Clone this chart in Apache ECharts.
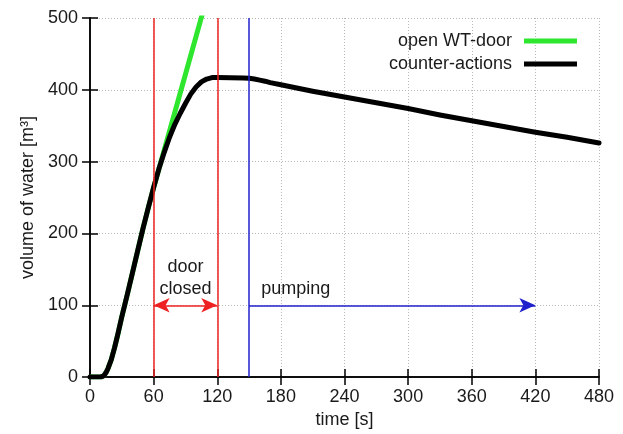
<!DOCTYPE html>
<html><head><meta charset="utf-8">
<script src="https://cdn.jsdelivr.net/npm/echarts@6/dist/echarts.min.js"></script>
<style>html,body{margin:0;padding:0;background:#fff}#c{width:623px;height:434px}</style>
</head><body><div id="c"></div>
<script>
// ---- data ----
var timeTicks = [0, 60, 120, 180, 240, 300, 360, 420, 480];
var volumeTicks = [0, 100, 200, 300, 400, 500];
var counterT = [0, 10, 11, 13, 15, 17, 20, 23, 26, 30, 35, 40, 45, 50, 55, 60, 65, 70, 75, 80, 85, 90, 95, 100, 105, 110, 115, 120, 145, 150, 155, 160, 165, 170, 180, 210, 240, 270, 300, 330, 360, 390, 420, 450, 480];
var counterV = [0, 0, 0, 2, 6, 12, 24, 40, 58, 84, 114, 145, 176, 207, 236, 264, 290, 313, 334, 352, 367, 381, 394, 404, 411, 415, 417, 417, 416.5, 416, 415, 413.5, 412, 410, 407, 398, 390, 382, 374, 365, 357, 349, 341, 334, 326];
var openT = [0, 10, 11, 13, 15, 17, 20, 23, 26, 30, 35, 40, 45, 50, 55, 60, 66, 110];
var openV = [0, 0, 0, 2, 6, 12, 24, 40, 58, 84, 114, 145, 176, 207, 236, 264, 295, 527];
var eventTimes = [60, 120, 150];
var doorArrow = [60, 120, 100];
var pumpArrow = [150, 420, 100];
var seriesNames = ['open WT-door', 'counter-actions'];

function pairs(t, v) { return t.map(function (x, i) { return [x, v[i]]; }); }

var FONT = 'Liberation Sans, Arial, Helvetica, sans-serif';
var TXT = '#1a1a1a';
var chart = echarts.init(document.getElementById('c'), null, {renderer: 'canvas'});

var baseAxis = {
  type: 'value',
  axisLine: {show: true, lineStyle: {color: '#000', width: 1.5}},
  axisTick: {show: true, inside: true, length: 8, lineStyle: {color: '#000', width: 1.5}},
  axisLabel: {show: false},
  splitLine: {show: false}
};
var gridLine = {show: true, lineStyle: {type: [1, 2], color: '#b8b8b8', width: 1}};
var RED = '#ee2222', BLUE = '#2020cc';

var option = {
  animation: false,
  backgroundColor: '#fff',
  grid: {left: 90, right: 24, top: 18, bottom: 56, containLabel: false},
  legend: {
    orient: 'vertical', right: 41, top: 26, align: 'right',
    itemWidth: 53, itemHeight: 5, itemGap: 3,
    textStyle: {fontFamily: FONT, fontSize: 18, color: TXT, lineHeight: 20, padding: [0, 7, 0, 0]},
    data: [{name: seriesNames[0], icon: 'rect'}, {name: seriesNames[1], icon: 'rect'}]
  },
  xAxis: [
    Object.assign({}, baseAxis, {
      min: timeTicks[0], max: timeTicks[timeTicks.length - 1], interval: 60, position: 'bottom',
      name: 'time [s]', nameLocation: 'middle', nameGap: 31,
      nameTextStyle: {fontFamily: FONT, fontSize: 18, color: TXT},
      axisLabel: {show: true, margin: 11, fontFamily: FONT, fontSize: 18, color: TXT},
      splitLine: gridLine
    }),
    Object.assign({}, baseAxis, {min: 0, max: 480, interval: 60, position: 'top'})
  ],
  yAxis: [
    Object.assign({}, baseAxis, {
      min: volumeTicks[0], max: volumeTicks[volumeTicks.length - 1], interval: 100, position: 'left',
      name: 'volume of water [m³]', nameLocation: 'middle', nameGap: 51,
      nameTextStyle: {fontFamily: FONT, fontSize: 18, color: TXT},
      axisLabel: {show: true, margin: 12, fontFamily: FONT, fontSize: 18, color: TXT},
      splitLine: gridLine
    }),
    Object.assign({}, baseAxis, {min: 0, max: 500, interval: 100, position: 'right'})
  ],
  series: [
    {
      name: 'events', type: 'line', data: [], silent: true,
      markLine: {
        silent: true, symbol: ['none', 'none'], label: {show: false}, animation: false,
        data: [
          {xAxis: eventTimes[0], lineStyle: {color: RED, width: 1.5, type: 'solid'}},
          {xAxis: eventTimes[1], lineStyle: {color: RED, width: 1.5, type: 'solid'}},
          {xAxis: eventTimes[2], lineStyle: {color: BLUE, width: 1.5, type: 'solid'}},
          [{coord: [doorArrow[0], doorArrow[2]], symbol: 'arrow', symbolSize: [11, 16]},
           {coord: [doorArrow[1], doorArrow[2]], symbol: 'arrow', symbolSize: [11, 16],
            lineStyle: {color: RED, width: 1.5, type: 'solid'}}],
          [{coord: [pumpArrow[0], pumpArrow[2]], symbol: 'none'},
           {coord: [pumpArrow[1], pumpArrow[2]], symbol: 'arrow', symbolSize: [11, 16],
            lineStyle: {color: BLUE, width: 1.5, type: 'solid'}}]
        ]
      }
    },
    {
      name: seriesNames[0], type: 'line', data: pairs(openT, openV),
      showSymbol: false, symbol: 'none', color: '#2ee62e',
      lineStyle: {width: 5, color: '#2ee62e'}, z: 3
    },
    {
      name: seriesNames[1], type: 'line', data: pairs(counterT, counterV),
      showSymbol: false, symbol: 'none', color: '#000',
      lineStyle: {width: 5, color: '#000', join: 'round', cap: 'round'}, z: 4
    },
    {
      name: 'labels', type: 'scatter', symbolSize: 0, silent: true, z: 5,
      itemStyle: {opacity: 1},
      data: [
        {value: [90, 100], label: {show: true, formatter: 'door\nclosed'}},
        {value: [194, 100], label: {show: true, formatter: 'pumping'}}
      ],
      label: {position: 'top', distance: 5, fontFamily: FONT, fontSize: 18, color: TXT, opacity: 1, lineHeight: 22, align: 'center'}
    }
  ]
};
chart.setOption(option);
</script></body></html>
